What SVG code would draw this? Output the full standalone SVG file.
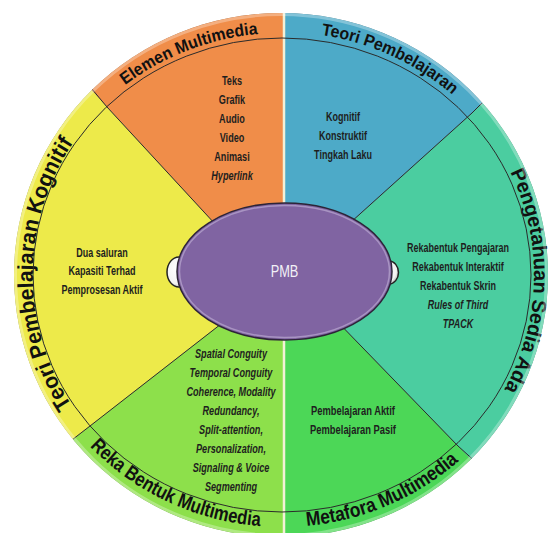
<svg xmlns="http://www.w3.org/2000/svg" width="551" height="533" viewBox="0 0 551 533">
  <defs>
    <clipPath id="disk">
      <ellipse cx="281" cy="275" rx="267" ry="262"/>
    </clipPath>
    <!-- baselines for the curved ring titles -->
    <path id="arc-elemen" d="M 88.2 119.4 A 253 242 0 0 1 308.4 34.3"/>
    <path id="arc-teori" d="M 289.1 32.1 A 254 243 0 0 1 475.4 117.5"/>
    <path id="arc-pengetahuan" d="M 496.9 148 A 252 243 0 0 1 489.7 412.6"/>
    <path id="arc-metafora" d="M 282 527 A 262 252 0 0 0 476.7 443.6"/>
    <path id="arc-reka" d="M 81.3 437 A 262 252 0 0 0 272.9 526.8"/>
    <path id="arc-kognitif" d="M 75.6 410.9 A 249 243 0 0 1 77 137"/>
    <radialGradient id="ear" cx="40%" cy="40%" r="70%">
      <stop offset="0" stop-color="#ffffff"/>
      <stop offset="0.7" stop-color="#f2f2f2"/>
      <stop offset="1" stop-color="#9a9a9a"/>
    </radialGradient>
  </defs>
  <style>
    .item{font-family:"Liberation Sans",Arial,sans-serif;font-weight:bold;fill:#1e1e1e;text-anchor:middle}
    .it{font-style:italic}
    .ring{font-family:"Liberation Sans",Arial,sans-serif;font-weight:bold;fill:#111;text-anchor:middle}
    .div{stroke:#2b2b2b;stroke-width:1;fill:none}
    .seam{stroke:#f3f1d6;stroke-width:2.5}
  </style>

  <rect width="551" height="533" fill="#ffffff"/>
  <ellipse cx="281" cy="275" rx="267" ry="262" fill="#9a9a9a"/>

  <!-- Elemen Multimedia -->
  <g id="elemen-multimedia">
    <polygon clip-path="url(#disk)" fill="#F08D49" points="284,299 284,-200 -150,-200 -150,-172"/>
    <text class="ring" font-size="17" textLength="144" lengthAdjust="spacingAndGlyphs"><textPath href="#arc-elemen" startOffset="50%">Elemen Multimedia</textPath></text>
    <g class="item" font-size="13" transform="translate(232 0) scale(0.7 1)">
      <text x="0" y="85.5">Teks</text>
      <text x="0" y="104.5">Grafik</text>
      <text x="0" y="123.5">Audio</text>
      <text x="0" y="142.5">Video</text>
      <text x="0" y="161.5">Animasi</text>
      <text x="0" y="180.5" class="it">Hyperlink</text>
    </g>
  </g>

  <!-- Teori Pembelajaran -->
  <g id="teori-pembelajaran">
    <polygon clip-path="url(#disk)" fill="#4DAAC8" points="284,283 284,-200 800,-200 800,-183.5"/>
    <text class="ring" font-size="17" textLength="146" lengthAdjust="spacingAndGlyphs"><textPath href="#arc-teori" startOffset="50%">Teori Pembelajaran</textPath></text>
    <g class="item" font-size="12" transform="translate(343 0) scale(0.75 1)">
      <text x="0" y="121">Kognitif</text>
      <text x="0" y="140">Konstruktif</text>
      <text x="0" y="159">Tingkah Laku</text>
    </g>
  </g>

  <!-- Pengetahuan Sedia Ada -->
  <g id="pengetahuan-sedia-ada">
    <polygon clip-path="url(#disk)" fill="#4BCDA0" points="292.3,275.5 800,-183.5 800,798"/>
    <text class="ring" font-size="20" textLength="226" lengthAdjust="spacingAndGlyphs"><textPath href="#arc-pengetahuan" startOffset="50%">Pengetahuan Sedia Ada</textPath></text>
    <g class="item" font-size="12" transform="translate(458 0) scale(0.75 1)">
      <text x="0" y="252">Rekabentuk Pengajaran</text>
      <text x="0" y="271">Rekabentuk Interaktif</text>
      <text x="0" y="290">Rekabentuk Skrin</text>
      <text x="0" y="309" class="it">Rules of Third</text>
      <text x="0" y="328" class="it">TPACK</text>
    </g>
  </g>

  <!-- Metafora Multimedia -->
  <g id="metafora-multimedia">
    <polygon clip-path="url(#disk)" fill="#4CD757" points="284,267 800,798 800,800 284,800"/>
    <text class="ring" font-size="20" textLength="168" lengthAdjust="spacingAndGlyphs"><textPath href="#arc-metafora" startOffset="50%">Metafora Multimedia</textPath></text>
    <g class="item" font-size="12" transform="translate(353 0) scale(0.78 1)">
      <text x="0" y="415">Pembelajaran Aktif</text>
      <text x="0" y="434">Pembelajaran Pasif</text>
    </g>
  </g>

  <!-- Reka Bentuk Multimedia -->
  <g id="reka-bentuk-multimedia">
    <polygon clip-path="url(#disk)" fill="#8DE04B" points="284,274.7 284,800 -150,800 -150,613.2"/>
    <text class="ring" font-size="20" textLength="192" lengthAdjust="spacingAndGlyphs"><textPath href="#arc-reka" startOffset="50%">Reka Bentuk Multimedia</textPath></text>
    <g class="item it" font-size="12.5" transform="translate(231 0) scale(0.73 1)">
      <text x="0" y="358.5">Spatial Conguity</text>
      <text x="0" y="377.5">Temporal Conguity</text>
      <text x="0" y="396.5">Coherence, Modality</text>
      <text x="0" y="415.5">Redundancy,</text>
      <text x="0" y="434.5">Split-attention,</text>
      <text x="0" y="453.5">Personalization,</text>
      <text x="0" y="472.5">Signaling &amp; Voice</text>
      <text x="0" y="491.5">Segmenting</text>
    </g>
  </g>

  <!-- Teori Pembelajaran Kognitif -->
  <g id="teori-pembelajaran-kognitif">
    <polygon clip-path="url(#disk)" fill="#EDEA4A" points="271,284.8 -150,-172 -150,613.2"/>
    <text class="ring" font-size="22" textLength="278" lengthAdjust="spacingAndGlyphs"><textPath href="#arc-kognitif" startOffset="50%">Teori Pembelajaran Kognitif</textPath></text>
    <g class="item" font-size="12" transform="translate(102 0) scale(0.75 1)">
      <text x="0" y="257">Dua saluran</text>
      <text x="0" y="275.5">Kapasiti Terhad</text>
      <text x="0" y="294">Pemprosesan Aktif</text>
    </g>
  </g>

  <!-- sector dividers and the ring line -->
  <g id="connectors" clip-path="url(#disk)">
    <line class="seam" x1="284" y1="0" x2="284" y2="533"/>
    <polyline class="div" points="300,268 472,113 490,95"/>
    <polyline class="div" points="240,251 107,107 86,82"/>
    <polyline class="div" points="230,317 90,426 68,443"/>
    <polyline class="div" points="330,314 458,446 479,465"/>
    <ellipse class="div" cx="282" cy="275" rx="249" ry="237"/>
    <ellipse cx="281" cy="275" rx="265.5" ry="260.5" fill="none" stroke="#ffffff" stroke-opacity="0.3" stroke-width="3"/>
  </g>

  <!-- central hub -->
  <g id="pmb">
    <ellipse cx="179" cy="272" rx="12" ry="15" fill="url(#ear)" stroke="#222" stroke-width="1.5"/>
    <ellipse cx="389" cy="272.5" rx="9.5" ry="11.5" fill="url(#ear)" stroke="#222" stroke-width="1.5"/>
    <ellipse cx="284.5" cy="271.5" rx="107.5" ry="68.5" fill="#8064A2" stroke="#2d2438" stroke-width="1.5"/>
    <ellipse cx="284.5" cy="271.5" rx="105" ry="66" fill="none" stroke="#b9a8d0" stroke-width="1.5" opacity="0.7"/>
    <text x="0" y="0" transform="translate(284.5 277) scale(0.8 1)" font-family="Liberation Sans, Arial, sans-serif" font-size="16" fill="#f2f0f6" text-anchor="middle">PMB</text>
  </g>
</svg>
